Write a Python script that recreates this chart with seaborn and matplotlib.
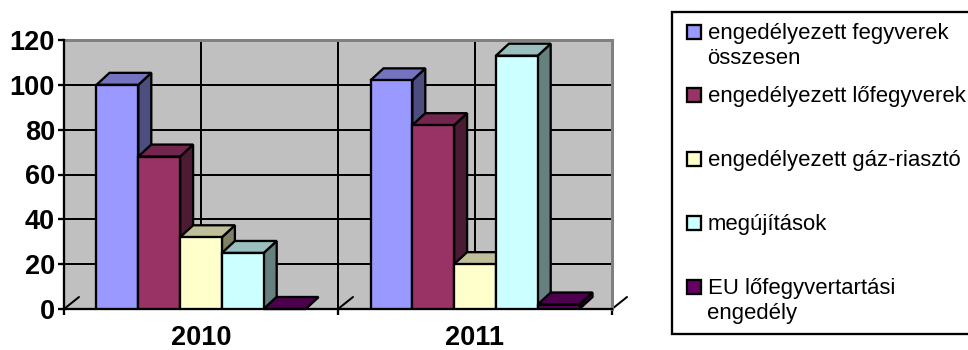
import matplotlib
matplotlib.use("Agg")
import matplotlib.pyplot as plt
import pandas as pd
import seaborn as sns
from matplotlib.colors import to_rgb
from matplotlib.patches import Polygon, Rectangle

# values
years = ["2010", "2011"]
series = [
    "engedélyezett fegyverek\nösszesen",
    "engedélyezett lőfegyverek",
    "engedélyezett gáz-riasztó",
    "megújítások",
    "EU lőfegyvertartási\nengedély",
]
values_2010 = [100, 68, 32, 25, 0]
values_2011 = [102, 82, 20, 113, 2]
colors = ["#9999FF", "#993366", "#FFFFCC", "#CCFFFF", "#660066"]
y_ticks = [0, 20, 40, 60, 80, 100, 120]

W, H = 968, 350
PX = 72 / 100  # one pixel in points
LINE = 2.3 * PX
GRID = 2 * PX

df = pd.DataFrame({
    "year": [y for y in years for _ in series],
    "series": series * 2,
    "value": values_2010 + values_2011,
})

sns.set_theme(style="white")
plt.rcParams["font.family"] = ["Liberation Sans", "DejaVu Sans"]

fig = plt.figure(figsize=(W / 100, H / 100), dpi=100, facecolor="white")
ax = fig.add_axes([64 / W, 1 - 309 / H, 548 / W, 269 / H], facecolor="#C0C0C0")

sns.barplot(
    data=df, x="year", y="value", hue="series",
    order=years, hue_order=series, palette=colors,
    width=209 / 274, saturation=1, gap=0,
    edgecolor="black", linewidth=LINE, legend=False, ax=ax,
)

ax.set_xlim(-0.5, 1.5)
ax.set_ylim(0, 120)
ax.set_xlabel("")
ax.set_ylabel("")

# fake 3d depth of the excel chart, in data units
depth_x = 13 / 274
depth_y = 12 / (269 / 120)


def shade(color, factor):
    return tuple(c * factor for c in to_rgb(color))


# later bars sit on top of the earlier ones, left to right
for i, (container, color) in enumerate(zip(ax.containers, colors)):
    for bar in container:
        x0 = bar.get_x()
        x1 = x0 + bar.get_width()
        y1 = bar.get_height()
        z = 3 + i
        top = [(x0, y1), (x1, y1), (x1 + depth_x, y1 + depth_y), (x0 + depth_x, y1 + depth_y)]
        side = [(x1, 0), (x1 + depth_x, depth_y), (x1 + depth_x, y1 + depth_y), (x1, y1)]
        ax.add_patch(Polygon(side, closed=True, facecolor=shade(color, 0.5), edgecolor="black",
                             linewidth=LINE, zorder=z, clip_on=False, joinstyle="miter"))
        ax.add_patch(Polygon(top, closed=True, facecolor=shade(color, 0.75), edgecolor="black",
                             linewidth=LINE, zorder=z, clip_on=False, joinstyle="miter"))
        bar.set_zorder(z + 0.5)

# grid and ticks
ax.set_axisbelow(True)
ax.set_yticks(y_ticks)
ax.set_xticks([0, 1])
ax.set_xticks([-0.5, 0.5, 1.5], minor=True)
ax.yaxis.grid(True, color="black", linewidth=GRID)
ax.xaxis.grid(True, which="major", color="black", linewidth=GRID)
ax.axvline(0.5, color="black", linewidth=GRID, zorder=1)
ax.tick_params(axis="y", length=6 * PX, width=LINE, color="black", pad=3 * PX, left=True,
               labelsize=19.5, labelcolor="black")
ax.tick_params(axis="x", which="major", length=0, pad=16 * PX, labelsize=19.5, labelcolor="black")
ax.tick_params(axis="x", which="minor", length=6 * PX, width=LINE, color="black", bottom=True)
for label in ax.get_xticklabels() + ax.get_yticklabels():
    label.set_fontweight("bold")

for name, col in [("left", "black"), ("bottom", "black"), ("top", "#808080"), ("right", "#808080")]:
    ax.spines[name].set_visible(True)
    ax.spines[name].set_color(col)
    ax.spines[name].set_linewidth(LINE if col == "black" else 3 * PX)
ax.spines["left"].set_zorder(2.6)

# little diagonal ticks going to the back wall
for x in [-0.5, 0.5, 1.5]:
    ax.plot([x, x + 15 / 274], [0, depth_y], color="black", linewidth=GRID, clip_on=False, zorder=2.5)

# legend, drawn on a pixel overlay because excel spaces the rows evenly
over = fig.add_axes([0, 0, 1, 1], facecolor="none")
over.set_xlim(0, W)
over.set_ylim(H, 0)
over.axis("off")
over.add_patch(Rectangle((672, 12), 310, 322, facecolor="white", edgecolor="black", linewidth=LINE))
for i, (name, color) in enumerate(zip(series, colors)):
    y = 31.5 + 63.8 * i
    over.add_patch(Rectangle((687, y - 7), 14, 14, facecolor=color, edgecolor="black", linewidth=LINE))
    over.text(707.5, y - 9, name, fontsize=15.95, color="black", va="top", ha="left", linespacing=1.3)

fig.savefig("out.png", dpi=100)
